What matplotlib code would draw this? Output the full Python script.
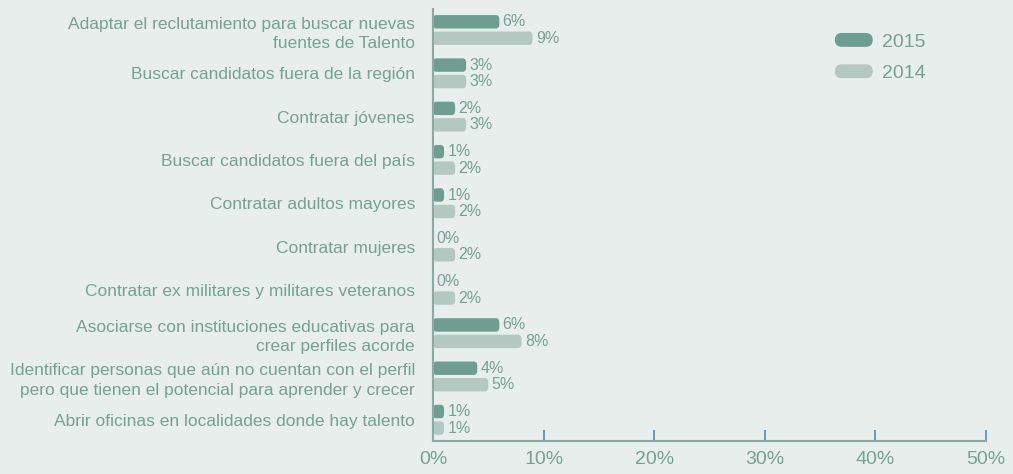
import numpy as np
import matplotlib
matplotlib.use('Agg')
import matplotlib.pyplot as plt
from matplotlib.patches import FancyBboxPatch, Patch
from matplotlib.legend_handler import HandlerPatch

categories = [
    'Adaptar el reclutamiento para buscar nuevas\nfuentes de Talento',
    'Buscar candidatos fuera de la región',
    'Contratar jóvenes',
    'Buscar candidatos fuera del país',
    'Contratar adultos mayores',
    'Contratar mujeres',
    'Contratar ex militares y militares veteranos',
    'Asociarse con instituciones educativas para\ncrear perfiles acorde',
    'Identificar personas que aún no cuentan con el perfil\npero que tienen el potencial para aprender y crecer',
    'Abrir oficinas en localidades donde hay talento',
]
vals_2015 = [6, 3, 2, 1, 1, 0, 0, 6, 4, 1]
vals_2014 = [9, 3, 3, 2, 2, 2, 2, 8, 5, 1]
xticks = [0, 10, 20, 30, 40, 50]

bg = '#e8eeec'
dark = '#6e9e91'
light = '#b2c8c1'
txt = '#74a294'
axcol = '#86ada3'

plt.rcParams['font.family'] = ['Liberation Sans', 'DejaVu Sans']

fig = plt.figure(figsize=(10.13, 4.74), dpi=100, facecolor=bg)
ax = fig.add_axes([433/1013, 1-441/474, (986-433)/1013, (441-9)/474])
ax.set_facecolor(bg)

y = np.arange(len(categories))
off = 0.19
h = 0.31
b1 = ax.barh(y - off, vals_2015, height=h, color=dark, label='2015')
b2 = ax.barh(y + off, vals_2014, height=h, color=light, label='2014')

# rounded ends for the bars
for bars, col in ((b1, dark), (b2, light)):
    for r in bars:
        r.set_visible(False)
        w = r.get_width()
        if w <= 0:
            continue
        p = FancyBboxPatch((r.get_x(), r.get_y()), w, r.get_height(),
                           boxstyle='round,pad=0,rounding_size=0.3',
                           mutation_aspect=0.36,
                           facecolor=col, edgecolor='none')
        ax.add_patch(p)

for i in range(len(categories)):
    ax.text(vals_2015[i] + 0.3, y[i] - off, f'{vals_2015[i]}%', va='center',
            ha='left', fontsize=11.5, color=txt)
    ax.text(vals_2014[i] + 0.3, y[i] + off, f'{vals_2014[i]}%', va='center',
            ha='left', fontsize=11.5, color=txt)

ax.set_xlim(0, 50)
ax.set_ylim(9.49, -0.485)
ax.set_xticks(xticks)
ax.set_xticklabels([f'{t}%' for t in xticks], fontsize=14, color=txt)
ax.tick_params(axis='x', direction='in', length=8, width=1.2, color='#4a8cba', pad=7)
ax.set_yticks(y)
ax.set_yticklabels(categories, fontsize=12.5, color=txt, linespacing=1.4)
ax.tick_params(axis='y', length=0, pad=13)

for s in ('top', 'right'):
    ax.spines[s].set_visible(False)
ax.spines['left'].set_color(axcol)
ax.spines['bottom'].set_color(axcol)
ax.spines['left'].set_linewidth(1.5)
ax.spines['bottom'].set_linewidth(1.5)


def round_handle(legend, orig_handle, xdescent, ydescent, width, height, fontsize):
    return FancyBboxPatch((-xdescent, -ydescent), width, height,
                          boxstyle='round,pad=0,rounding_size=5')


handles = [Patch(facecolor=dark, label='2015'), Patch(facecolor=light, label='2014')]
leg = ax.legend(handles=handles, loc='upper left', bbox_to_anchor=(0.695, 0.985),
                frameon=False, fontsize=14, handlelength=1.95, handleheight=0.72,
                labelspacing=0.7, handletextpad=0.5,
                handler_map={Patch: HandlerPatch(patch_func=round_handle)})
for t in leg.get_texts():
    t.set_color(txt)

fig.savefig('out.png', dpi=100, facecolor=bg)
